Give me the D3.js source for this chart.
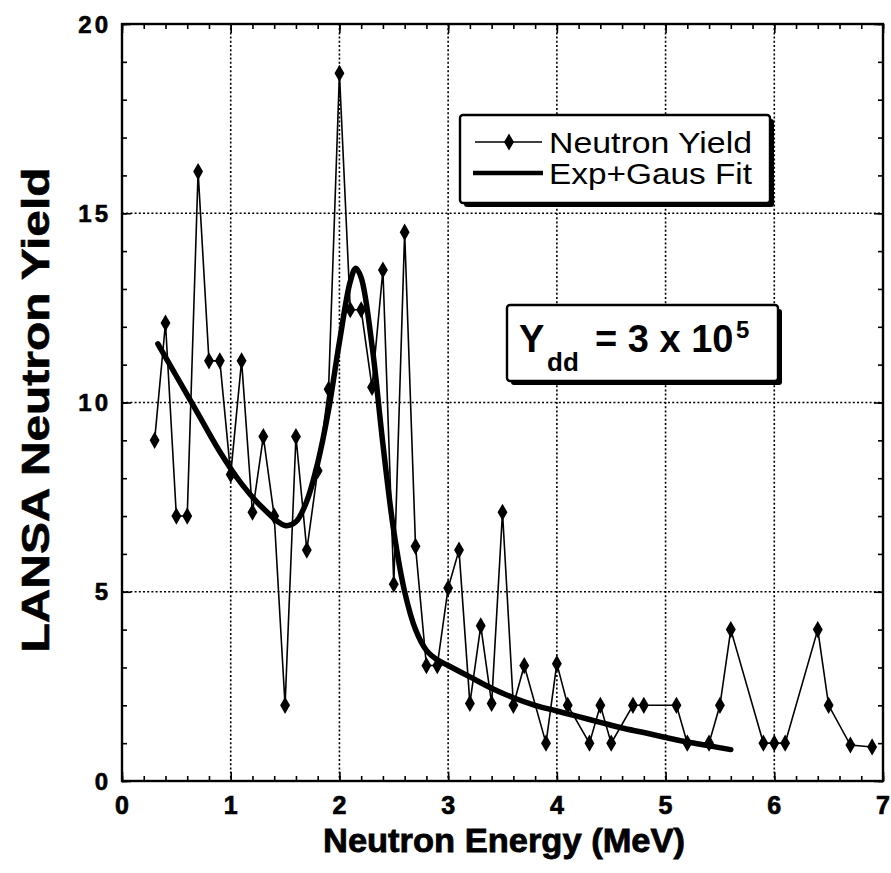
<!DOCTYPE html>
<html>
<head>
<meta charset="utf-8">
<script src="https://cdn.jsdelivr.net/npm/d3@7"></script>
<style>
  html, body { margin: 0; padding: 0; background: #fff; }
  svg { display: block; font-family: "Liberation Sans", Arial, Helvetica, sans-serif; }
</style>
</head>
<body>
<svg id="chart" width="891" height="873"></svg>
<script>
// ---- data ----
const energy = [0.3, 0.4, 0.5, 0.6, 0.7, 0.8, 0.9, 1.0, 1.1, 1.2, 1.3, 1.4, 1.5, 1.6, 1.7, 1.8, 1.9,
  2.0, 2.1, 2.2, 2.3, 2.4, 2.5, 2.6, 2.7, 2.8, 2.9, 3.0, 3.1, 3.2, 3.3, 3.4, 3.5, 3.6, 3.7, 3.9,
  4.0, 4.1, 4.3, 4.4, 4.5, 4.7, 4.8, 5.1, 5.2, 5.4, 5.5, 5.6, 5.9, 6.0, 6.1, 6.4, 6.5, 6.7, 6.9];
const neutronYield = [9.0, 12.1, 7.0, 7.0, 16.1, 11.1, 11.1, 8.1, 11.1, 7.1, 9.1, 7.0, 2.0, 9.1, 6.1, 8.2, 10.35,
  18.7, 12.45, 12.45, 10.4, 13.5, 5.2, 14.5, 6.2, 3.05, 3.05, 5.1, 6.1, 2.05, 4.1, 2.05, 7.1, 2.0, 3.05, 1.0,
  3.1, 2.0, 1.0, 2.0, 1.0, 2.0, 2.0, 2.0, 1.0, 1.0, 2.0, 4.0, 1.0, 1.0, 1.0, 4.0, 2.0, 0.95, 0.9];

const fitEnergy = [0.33, 0.5, 0.7, 0.9, 1.1, 1.3, 1.5, 1.6, 1.7, 1.8, 1.9, 2.0, 2.1, 2.15, 2.2, 2.3, 2.4,
  2.5, 2.6, 2.7, 2.8, 2.9, 3.0, 3.2, 3.4, 3.6, 3.8, 4.0, 4.2, 4.4, 4.6, 4.8, 5.0, 5.2, 5.4, 5.6];
const fitYield = [11.55, 10.7, 9.7, 8.7, 7.85, 7.2, 6.75, 6.85, 7.4, 8.4, 9.8, 11.6, 13.2, 13.55, 13.3, 11.5, 8.9,
  6.6, 5.0, 4.0, 3.45, 3.2, 3.05, 2.75, 2.45, 2.2, 2.0, 1.85, 1.7, 1.55, 1.4, 1.28, 1.15, 1.03, 0.93, 0.83];

const xTicks = [0, 1, 2, 3, 4, 5, 6, 7];
const yTicks = [0, 5, 10, 15, 20];
const xGrid = [1, 2, 3, 4, 5, 6];
const yGrid = [5, 10, 15];
const xMinor = d3.range(0, 7.0001, 0.2);
const yMinor = d3.range(0, 20.0001, 1);
const legendLabels = ["Neutron Yield", "Exp+Gaus Fit"];

// ---- layout ----
const L = 122, R = 883, T = 24, B = 781;
const svg = d3.select("#chart");
const x = d3.scaleLinear().domain([0, 7]).range([L, R]);
const y = d3.scaleLinear().domain([0, 20]).range([B, T]);

// grid (dotted)
const grid = svg.append("g").attr("stroke", "#000").attr("stroke-width", 1.6).attr("stroke-dasharray", "2,2.2");
grid.selectAll(".gx").data(xGrid).enter().append("line")
  .attr("x1", d => x(d)).attr("x2", d => x(d)).attr("y1", T).attr("y2", B);
grid.selectAll(".gy").data(yGrid).enter().append("line")
  .attr("x1", L).attr("x2", R).attr("y1", d => y(d)).attr("y2", d => y(d));

// axes with inward ticks on all four sides
function tickAxis(axisGen, transform) {
  const g = svg.append("g").attr("transform", transform).call(axisGen);
  g.select(".domain").remove();
  g.selectAll("text").remove();
  g.selectAll("line").attr("stroke", "#000").attr("stroke-width", 1.6);
  return g;
}
tickAxis(d3.axisBottom(x).tickValues(xMinor).tickSizeInner(-5).tickSizeOuter(0), `translate(0,${B})`);
tickAxis(d3.axisTop(x).tickValues(xMinor).tickSizeInner(-5).tickSizeOuter(0), `translate(0,${T})`);
tickAxis(d3.axisLeft(y).tickValues(yMinor).tickSizeInner(-5).tickSizeOuter(0), `translate(${L},0)`);
tickAxis(d3.axisRight(y).tickValues(yMinor).tickSizeInner(-5).tickSizeOuter(0), `translate(${R},0)`);
tickAxis(d3.axisBottom(x).tickValues(xTicks).tickSizeInner(-9).tickSizeOuter(0), `translate(0,${B})`);
tickAxis(d3.axisLeft(y).tickValues(yTicks).tickSizeInner(-9).tickSizeOuter(0), `translate(${L},0)`);
tickAxis(d3.axisRight(y).tickValues(yTicks).tickSizeInner(-9).tickSizeOuter(0), `translate(${R},0)`);
tickAxis(d3.axisTop(x).tickValues(xTicks).tickSizeInner(-9).tickSizeOuter(0), `translate(0,${T})`);

// frame
svg.append("rect").attr("x", L).attr("y", T).attr("width", R - L).attr("height", B - T)
  .attr("fill", "none").attr("stroke", "#000").attr("stroke-width", 2.4);

// tick labels (positioned through the scales)
svg.append("g").selectAll("text").data(xTicks).enter().append("text")
  .attr("x", d => x(d)).attr("y", B + 33).attr("text-anchor", "middle")
  .style("font-size", "25px").style("font-weight", "bold")
  .attr("stroke", "#000").attr("stroke-width", 0.7)
  .text(d => d3.format("d")(d));
svg.append("g").selectAll("text").data(yTicks).enter().append("text")
  .attr("x", L - 11).attr("y", d => y(d)).attr("dy", "0.36em").attr("text-anchor", "end")
  .style("font-size", "24px").style("font-weight", "bold").style("letter-spacing", "3px")
  .attr("stroke", "#000").attr("stroke-width", 0.6)
  .text(d => d3.format("d")(d));

// axis titles
svg.append("text").attr("x", 504).attr("y", 852).attr("text-anchor", "middle")
  .style("font-size", "34px").style("font-weight", "bold").attr("textLength", 362).attr("lengthAdjust", "spacingAndGlyphs")
  .attr("stroke", "#000").attr("stroke-width", 0.8)
  .text("Neutron Energy (MeV)");
svg.append("text").attr("transform", "translate(49,410) rotate(-90)").attr("text-anchor", "middle")
  .style("font-size", "38px").style("font-weight", "bold").attr("textLength", 485).attr("lengthAdjust", "spacingAndGlyphs")
  .attr("stroke", "#000").attr("stroke-width", 0.6)
  .text("LANSA Neutron Yield");

// data series
const pts = energy.map((e, i) => [e, neutronYield[i]]);
svg.append("path").datum(pts)
  .attr("fill", "none").attr("stroke", "#000").attr("stroke-width", 1.6)
  .attr("d", d3.line().x(d => x(d[0])).y(d => y(d[1])));
const diamond = d3.symbol().type(d3.symbolDiamond).size(85);
svg.selectAll(".pt").data(pts).enter().append("path")
  .attr("transform", d => `translate(${x(d[0])},${y(d[1])})`)
  .attr("d", diamond).attr("fill", "#000");

// fit curve
const fitPts = fitEnergy.map((e, i) => [e, fitYield[i]]);
svg.append("path").datum(fitPts)
  .attr("fill", "none").attr("stroke", "#000").attr("stroke-width", 5.5).attr("stroke-linecap", "round")
  .attr("d", d3.line().curve(d3.curveCatmullRom.alpha(0.5)).x(d => x(d[0])).y(d => y(d[1])));

// boxes with drop shadow
function shadowBox(x0, y0, w, h) {
  svg.append("rect").attr("x", x0 + 4).attr("y", y0 + 4).attr("width", w).attr("height", h)
    .attr("rx", 3).attr("fill", "#000");
  svg.append("rect").attr("x", x0).attr("y", y0).attr("width", w).attr("height", h)
    .attr("rx", 3).attr("fill", "#fff").attr("stroke", "#000").attr("stroke-width", 2.4);
}

// legend
shadowBox(460, 115, 310, 88);
const lg = svg.append("g");
lg.append("line").attr("x1", 475).attr("x2", 542).attr("y1", 142).attr("y2", 142)
  .attr("stroke", "#000").attr("stroke-width", 1.6);
lg.append("path").attr("transform", "translate(509,142)").attr("d", diamond).attr("fill", "#000");
lg.append("line").attr("x1", 473).attr("x2", 543).attr("y1", 173).attr("y2", 173)
  .attr("stroke", "#000").attr("stroke-width", 4.5);
lg.selectAll(".lt").data(legendLabels).enter().append("text")
  .attr("x", 549).attr("y", (d, i) => 153 + i * 31)
  .style("font-size", "29px").attr("textLength", 203).attr("lengthAdjust", "spacingAndGlyphs")
  .text(d => d);

// Y_dd annotation
shadowBox(507, 305, 271, 76);
const ann = svg.append("g").style("font-weight", "bold").attr("fill", "#000");
ann.append("text").attr("x", 519).attr("y", 352).style("font-size", "38px").text("Y");
ann.append("text").attr("x", 547).attr("y", 371).style("font-size", "26px").text("dd");
ann.append("text").attr("x", 595).attr("y", 352).style("font-size", "38px").text("= 3 x 10");
ann.append("text").attr("x", 736).attr("y", 338).style("font-size", "24px").text("5");
</script>
</body>
</html>
